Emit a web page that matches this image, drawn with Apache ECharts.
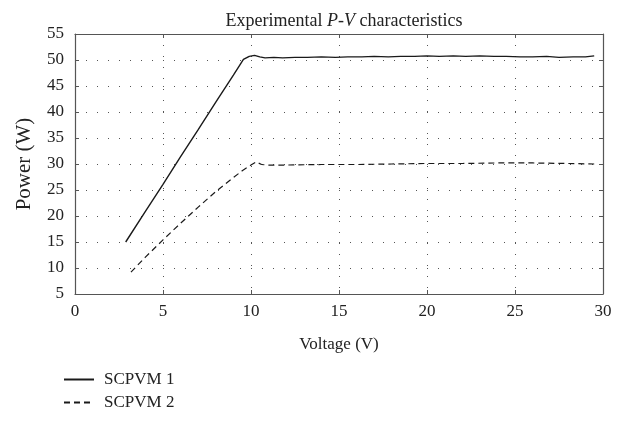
<!DOCTYPE html>
<html><head><meta charset="utf-8">
<script src="https://cdn.jsdelivr.net/npm/echarts@6/dist/echarts.min.js"></script>
<style>html,body{margin:0;padding:0;background:#fff}#c{width:626px;height:428px}</style>
</head><body><div id="c"></div>
<script>
const xTicks = [0, 5, 10, 15, 20, 25, 30];
const yTicks = [5, 10, 15, 20, 25, 30, 35, 40, 45, 50, 55];
const s1Name = 'SCPVM 1';
const s1V = [2.88, 4, 5, 6, 7, 8, 9, 9.57, 9.9, 10.2, 10.5, 10.8, 11.3, 11.8, 12.5, 13.2, 14, 14.8, 15.5, 16.3, 17, 17.8, 18.5, 19.3, 20, 20.7, 21.5, 22.2, 23, 23.8, 24.5, 25.3, 26, 26.8, 27.5, 28.3, 29, 29.5];
const s1P = [15.0, 20.9, 26.1, 31.4, 36.6, 41.9, 47.1, 50.1, 50.7, 50.9, 50.6, 50.4, 50.5, 50.4, 50.5, 50.5, 50.6, 50.5, 50.6, 50.6, 50.7, 50.6, 50.7, 50.7, 50.8, 50.7, 50.8, 50.7, 50.8, 50.7, 50.7, 50.6, 50.6, 50.7, 50.5, 50.6, 50.6, 50.8];
const s2Name = 'SCPVM 2';
const s2V = [3.18, 4, 5, 6, 7, 8, 9, 9.5, 10, 10.3, 10.6, 11, 12, 14, 16, 18, 20, 22, 24, 25, 26, 28, 29.5];
const s2P = [9.2, 12.1, 15.4, 18.6, 21.7, 24.7, 27.4, 28.7, 29.8, 30.4, 29.9, 29.8, 29.8, 29.9, 29.9, 30.0, 30.1, 30.1, 30.2, 30.2, 30.2, 30.1, 30.0];

const font = 'Liberation Serif';
const chart = echarts.init(document.getElementById('c'), null, {renderer: 'canvas'});
const gridLine = {show: true, lineStyle: {color: '#555', type: [1, 10], width: 1}};
const frame = {show: true, onZero: false, lineStyle: {color: '#555', width: 1.2}};
const tick = {show: true, inside: true, length: 4, lineStyle: {color: '#555'}};
chart.setOption({
  animation: false,
  backgroundColor: '#fff',
  title: {
    text: '{a|Experimental }{i|P-V}{a| characteristics}',
    left: 339, textAlign: 'center', top: 7,
    textStyle: {fontWeight: 'normal', rich: {
      a: {fontFamily: font, fontSize: 18, color: '#222', fontWeight: 'normal'},
      i: {fontFamily: font, fontSize: 18, color: '#222', fontStyle: 'italic', fontWeight: 'normal'}
    }}
  },
  grid: {left: 75, top: 34, right: 23, bottom: 134, containLabel: false},
  legend: {
    orient: 'vertical', left: 58, top: 366, itemWidth: 30, itemHeight: 14, itemGap: 6,
    itemStyle: {opacity: 0},
    textStyle: {fontFamily: font, fontSize: 17, color: '#222', padding: [0, 0, 0, 5]},
    data: [s1Name, s2Name]
  },
  xAxis: [{
    type: 'value', min: 0, max: 30, interval: 5, position: 'bottom',
    name: 'Voltage (V)', nameLocation: 'middle', nameGap: 42,
    nameTextStyle: {fontFamily: font, fontSize: 17, color: '#222'},
    axisLine: frame, axisTick: tick, splitLine: gridLine,
    axisLabel: {fontFamily: font, fontSize: 17, color: '#222', margin: 9}
  }, {
    type: 'value', min: 0, max: 30, interval: 5, position: 'top',
    axisLine: frame, axisTick: tick, splitLine: {show: false}, axisLabel: {show: false}
  }],
  yAxis: [{
    type: 'value', min: 5, max: 55, interval: 5, position: 'left',
    name: 'Power (W)', nameLocation: 'middle', nameGap: 40, nameRotate: 90,
    nameTextStyle: {fontFamily: font, fontSize: 21, color: '#222'},
    axisLine: frame, axisTick: tick, splitLine: gridLine,
    axisLabel: {fontFamily: font, fontSize: 17, color: '#222', margin: 11}
  }, {
    type: 'value', min: 5, max: 55, interval: 5, position: 'right',
    axisLine: frame, axisTick: tick, splitLine: {show: false}, axisLabel: {show: false}
  }],
  series: [{
    name: s1Name, type: 'line', symbol: 'none', showSymbol: false,
    data: s1V.map((v, i) => [v, s1P[i]]),
    lineStyle: {color: '#1a1a1a', width: 1.4}, itemStyle: {color: '#1a1a1a'}
  }, {
    name: s2Name, type: 'line', symbol: 'none', showSymbol: false,
    data: s2V.map((v, i) => [v, s2P[i]]),
    lineStyle: {color: '#1a1a1a', width: 1.2, type: [6, 4]}, itemStyle: {color: '#1a1a1a'}
  }]
});
</script></body></html>
